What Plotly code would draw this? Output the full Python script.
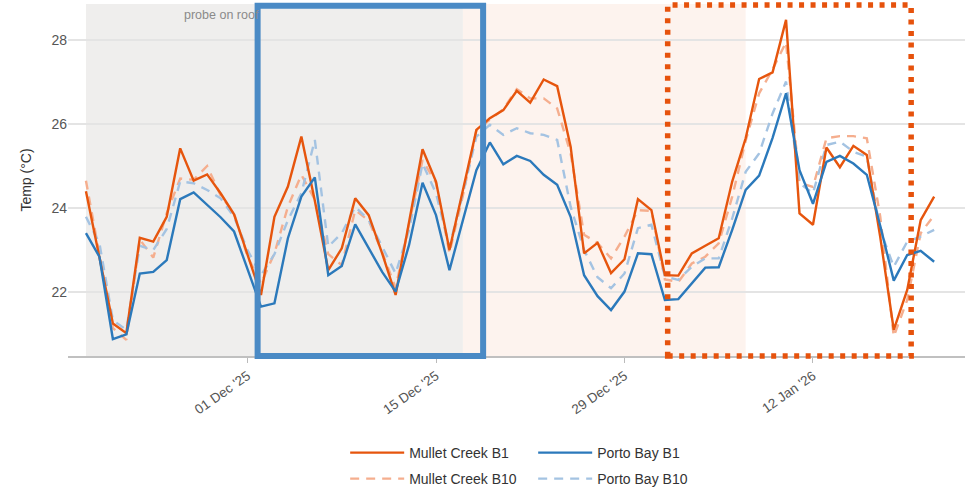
import pandas as pd
import plotly.graph_objects as go

# Daily mean water temperature, 19 Nov 2025 - 21 Jan 2026
dates = pd.date_range("2025-11-19", periods=64, freq="D")

mullet_b1 = [
    24.40, 22.84, 21.25, 21.02, 23.29, 23.20, 23.79, 25.42, 24.65, 24.80,
    24.35, 23.85, 22.88, 21.93, 23.79, 24.51, 25.70, 24.17, 22.52, 23.04,
    24.23, 23.83, 22.92, 21.93, 23.67, 25.40, 24.63, 23.00, 24.43, 25.86,
    26.14, 26.33, 26.79, 26.51, 27.06, 26.90, 25.46, 22.92, 23.17, 22.45,
    22.78, 24.21, 23.95, 22.40, 22.39, 22.92, 23.10, 23.28, 24.63, 25.66,
    27.07, 27.23, 28.48, 23.87, 23.60, 25.44, 24.97, 25.48, 25.26, 23.30,
    21.10, 22.05, 23.71, 24.27,
]
porto_b1 = [
    23.40, 22.84, 20.88, 20.99, 22.44, 22.48, 22.76, 24.21, 24.37, 24.07,
    23.78, 23.44, 22.55, 21.65, 21.73, 23.28, 24.27, 24.73, 22.40, 22.62,
    23.61, 23.04, 22.48, 22.01, 23.12, 24.60, 23.83, 22.52, 23.70, 24.90,
    25.56, 25.04, 25.24, 25.12, 24.79, 24.55, 23.79, 22.40, 21.90, 21.57,
    22.01, 22.92, 22.90, 21.81, 21.83, 22.21, 22.58, 22.59, 23.48, 24.43,
    24.77, 25.67, 26.73, 24.90, 24.10, 25.10, 25.24, 25.06, 24.79, 23.57,
    22.27, 22.88, 22.98, 22.72,
]
mullet_b10 = [
    24.65, 22.90, 21.14, 20.86, 23.25, 22.82, 23.88, 24.70, 24.67, 25.00,
    24.30, 23.87, 22.85, 22.20, 22.92, 24.03, 24.79, 24.20, 22.90, 22.64,
    23.95, 23.70, 22.95, 22.10, 23.60, 25.14, 24.60, 22.93, 24.30, 25.85,
    26.10, 26.35, 26.83, 26.61, 26.61, 26.37, 25.30, 23.36, 23.17, 22.80,
    23.32, 23.95, 23.93, 22.30, 22.24, 22.68, 22.84, 23.16, 24.27, 25.60,
    26.73, 27.30, 27.95, 24.60, 24.50, 25.66, 25.71, 25.71, 25.66, 23.79,
    20.94, 21.81, 23.40, 23.83,
]
porto_b10 = [
    23.79, 23.16, 21.33, 21.10, 23.10, 23.00, 23.50, 24.63, 24.59, 24.43,
    24.23, 23.79, 23.00, 22.40, 22.90, 23.71, 24.35, 25.62, 23.08, 23.40,
    24.03, 23.71, 23.08, 22.44, 23.48, 25.06, 24.35, 23.08, 24.35, 25.70,
    25.98, 25.74, 25.90, 25.78, 25.74, 25.62, 24.03, 23.00, 22.35, 22.09,
    22.44, 23.52, 23.60, 22.37, 22.29, 22.60, 22.80, 22.80, 23.75, 24.86,
    25.30, 26.25, 27.01, 24.59, 24.35, 25.50, 25.58, 25.34, 25.22, 23.48,
    22.60, 23.20, 23.32, 23.48,
]

ORANGE = "#e6550d"
BLUE = "#2b79bb"
ORANGE_LIGHT = "#f5ae8e"
BLUE_LIGHT = "#a4c3e2"
FONT = "Liberation Sans, Arial, sans-serif"

fig = go.Figure()

series = [
    ("Mullet Creek B1", mullet_b1, ORANGE, "solid", "legend"),
    ("Porto Bay B1", porto_b1, BLUE, "solid", "legend"),
    ("Mullet Creek B10", mullet_b10, ORANGE_LIGHT, "9px,7px", "legend2"),
    ("Porto Bay B10", porto_b10, BLUE_LIGHT, "9px,7px", "legend2"),
]
# light (B10) lines sit underneath the bold (B1) ones
for name, vals, color, dash, leg in series[2:] + series[:2]:
    fig.add_trace(go.Scatter(
        x=dates, y=vals, mode="lines", name=name, legend=leg,
        line=dict(color=color, width=2.4, dash=dash),
        hoverinfo="skip",
    ))

# period shading
fig.add_vrect(x0="2025-11-19", x1="2025-12-17", fillcolor="#efeeed",
              line_width=0, layer="below")
fig.add_vrect(x0="2025-12-17", x1="2026-01-07", fillcolor="#fdf3ee",
              line_width=0, layer="below")
fig.add_annotation(x="2025-11-29 01:00", y=1.0, xref="x", yref="paper",
                   text="probe on roof", showarrow=False, yanchor="top",
                   yshift=-2, font=dict(family=FONT, size=12.5, color="#8a8a8a"))

# highlight boxes
fig.add_shape(type="rect", xref="x", yref="paper",
              x0="2025-12-01 18:00", x1="2025-12-18 12:00", y0=0.0, y1=0.995,
              line=dict(color="#4a8ac5", width=6), layer="above")
fig.add_shape(type="rect", xref="x", yref="paper",
              x0="2026-01-01 05:00", x1="2026-01-19 07:00", y0=0.0, y1=0.997,
              line=dict(color="#e6520c", width=5.5, dash="5px,6.5px"),
              layer="above")

legend_style = dict(orientation="h", x=0.309, xanchor="left",
                    yanchor="middle", entrywidth=119, entrywidthmode="pixels",
                    itemwidth=54, font=dict(family=FONT, size=14, color="#333"),
                    bgcolor="rgba(0,0,0,0)")

fig.update_layout(
    width=965, height=488,
    margin=dict(l=68, r=0, t=4, b=132, autoexpand=False),
    paper_bgcolor="white", plot_bgcolor="white",
    font=dict(family=FONT, size=13, color="#444"),
    showlegend=True,
    legend=dict(legend_style, y=-0.2756),
    legend2=dict(legend_style, y=-0.3494),
)

fig.update_xaxes(
    range=["2025-11-17 16:00", "2026-01-23 07:00"],
    tick0="2025-12-01", dtick=14 * 86400000, tickformat="%d %b '%y",
    tickangle=-35, ticks="outside", ticklen=5, tickcolor="#bbbbbb",
    showline=True, linecolor="#c0c0c0", linewidth=2,
    showgrid=False, zeroline=False,
    tickfont=dict(family=FONT, size=13.5, color="#555"),
)
fig.update_yaxes(
    range=[20.476, 28.857], tickvals=[22, 24, 26, 28],
    showgrid=True, gridcolor="#e4e4e4", gridwidth=1.5,
    zeroline=False, showline=False, ticks="",
    tickfont=dict(family=FONT, size=14, color="#555"),
    title=dict(text="Temp (°C)", font=dict(family=FONT, size=14, color="#333"),
               standoff=16),
)

fig.write_html("out.html")
